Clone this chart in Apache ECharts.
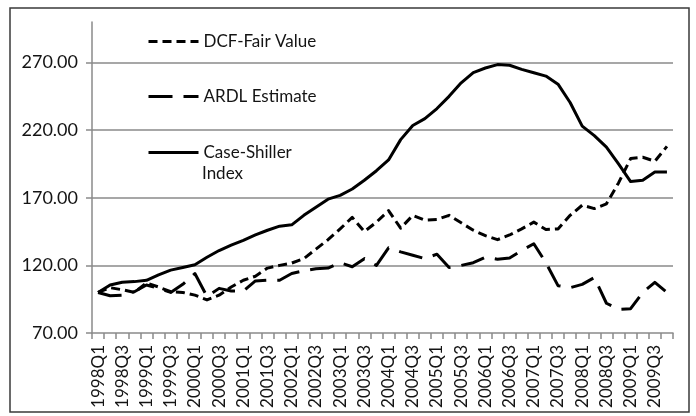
<!DOCTYPE html>
<html>
<head>
<meta charset="utf-8">
<script src="https://cdn.jsdelivr.net/npm/echarts@6/dist/echarts.min.js"></script>
<style>
  html, body { margin: 0; padding: 0; background: #ffffff; }
  #chart { width: 696px; height: 416px; }
</style>
</head>
<body>
<div id="chart"></div>
<script>
const quarters = [
  '1998Q1','1998Q2','1998Q3','1998Q4','1999Q1','1999Q2','1999Q3','1999Q4',
  '2000Q1','2000Q2','2000Q3','2000Q4','2001Q1','2001Q2','2001Q3','2001Q4',
  '2002Q1','2002Q2','2002Q3','2002Q4','2003Q1','2003Q2','2003Q3','2003Q4',
  '2004Q1','2004Q2','2004Q3','2004Q4','2005Q1','2005Q2','2005Q3','2005Q4',
  '2006Q1','2006Q2','2006Q3','2006Q4','2007Q1','2007Q2','2007Q3','2007Q4',
  '2008Q1','2008Q2','2008Q3','2008Q4','2009Q1','2009Q2','2009Q3','2009Q4'
];
const dcfFairValue = [
  100, 103.5, 102, 100, 107, 104, 100.5, 100,
  98, 94.5, 98, 104, 109, 112, 118, 120,
  121.7, 125, 132, 139, 147, 155.5, 145, 152,
  160.5, 147.5, 157, 153.5, 154, 157, 151.5, 146,
  142, 139, 142.5, 147, 152, 146.5, 147, 157,
  164.5, 162, 165.5, 181, 199, 200, 197, 208
];
const ardlEstimate = [
  100, 97.5, 98, 100.5, 105.5, 103, 100, 106,
  114, 97, 103, 101, 101, 108.5, 109, 109,
  114, 116, 117.5, 118, 122, 119, 125, 120,
  133, 130, 127.5, 125, 128.3, 118.5, 120, 122,
  126, 124.5, 125.5, 131, 136, 122, 105, 103.5,
  106, 111, 92, 87.5, 88, 100, 107.5, 100
];
const caseShiller = [
  100, 105.5, 107.5, 108, 109, 113, 116.5, 118.5,
  120.5, 126, 131, 135, 138.5, 142.5, 146, 149,
  150, 157, 163, 169, 171.8, 176.5, 183, 190,
  198, 213, 223.5, 228.5, 236, 245, 255, 262.6,
  266, 268.5, 268, 265, 262.5, 260, 254, 240.5,
  223, 216, 207.5, 195, 182, 183, 189, 189
];
const yTicks = [70, 120, 170, 220, 270];
const seriesNames = ['DCF-Fair Value', 'ARDL Estimate', 'Case-Shiller Index'];
const legendLabels = ['DCF-Fair Value', 'ARDL Estimate', 'Case-Shiller', 'Index'];

const FONT = 'Lato, "Liberation Sans", sans-serif';
const TXT = '#141414';
const GRID = '#8a8a8a';

const chart = echarts.init(document.getElementById('chart'), null, { renderer: 'canvas' });

const legendBase = {
  orient: 'vertical',
  left: 147,
  padding: 0,
  itemWidth: 50,
  itemHeight: 14,
  itemGap: 0,
  selectedMode: false,
  itemStyle: { opacity: 0 },
  lineStyle: { width: 3 },
  textStyle: { fontFamily: FONT, fontSize: 17, color: TXT }
};

chart.setOption({
  animation: false,
  backgroundColor: '#ffffff',
  graphic: [
    {
      type: 'rect',
      shape: { x: 10, y: 8, width: 679, height: 404 },
      style: { fill: 'none', stroke: '#3a3a3a', lineWidth: 1.5 },
      silent: true,
      z: 100
    },
    {
      type: 'text',
      left: 202, top: 165,
      style: { text: legendLabels[3], fontFamily: FONT, fontSize: 17, fill: TXT },
      silent: true
    }
  ],
  legend: [
    Object.assign({}, legendBase, { top: 33, data: [seriesNames[0]] }),
    Object.assign({}, legendBase, { top: 88, data: [seriesNames[1]] }),
    Object.assign({}, legendBase, {
      top: 144, data: [seriesNames[2]],
      formatter: function () { return legendLabels[2]; }
    })
  ],
  grid: { left: 92, right: 23, top: 22, bottom: 83, containLabel: false },
  xAxis: {
    type: 'category',
    data: quarters,
    boundaryGap: true,
    axisLine: { show: true, lineStyle: { color: GRID, width: 1.5 } },
    axisTick: { show: true, interval: 0, length: 6, lineStyle: { color: GRID, width: 1.5 } },
    axisLabel: {
      interval: 1, rotate: 90, margin: 12,
      fontFamily: FONT, fontSize: 17, color: TXT
    },
    splitLine: { show: false }
  },
  yAxis: {
    type: 'value',
    min: 70, max: 300, interval: 50,
    axisLine: { show: true, lineStyle: { color: GRID, width: 1.5 } },
    axisTick: { show: true, length: 6, customValues: yTicks, lineStyle: { color: GRID, width: 1.5 } },
    axisLabel: {
      customValues: yTicks,
      margin: 14,
      fontFamily: FONT, fontSize: 18, color: TXT,
      formatter: function (v) { return Number(v).toFixed(2); }
    },
    splitLine: { show: true, showMinLine: false, lineStyle: { color: GRID, width: 1.5 } }
  },
  series: [
    {
      name: seriesNames[0], type: 'line', data: dcfFairValue,
      symbol: 'none', smooth: false,
      lineStyle: { color: '#000', width: 3, type: [9, 5], cap: 'butt', join: 'round' },
      itemStyle: { color: '#000' }
    },
    {
      name: seriesNames[1], type: 'line', data: ardlEstimate,
      symbol: 'none', smooth: false,
      lineStyle: { color: '#000', width: 3, type: [24, 11], cap: 'butt', join: 'round' },
      itemStyle: { color: '#000' }
    },
    {
      name: seriesNames[2], type: 'line', data: caseShiller,
      symbol: 'none', smooth: false,
      lineStyle: { color: '#000', width: 3, type: 'solid', join: 'round' },
      itemStyle: { color: '#000' }
    }
  ]
});
</script>
</body>
</html>
